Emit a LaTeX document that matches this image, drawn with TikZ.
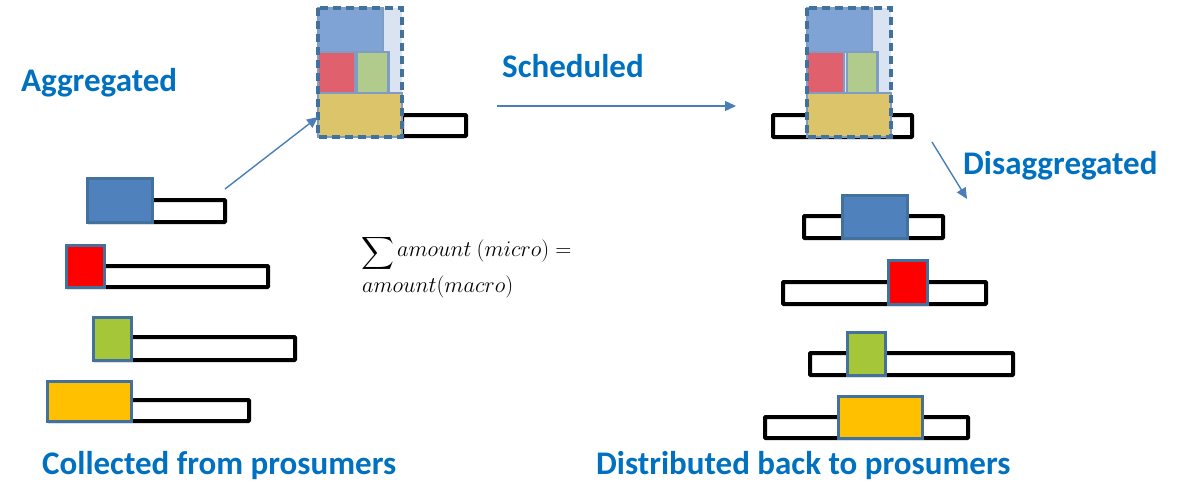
\documentclass[tikz,border=0pt]{standalone}
\usepackage{amsmath}
\usepackage{graphicx}
\usepackage{fontspec}
\setmainfont{Carlito}
\usetikzlibrary{arrows.meta}
\definecolor{lblue}{HTML}{0070C0}
\definecolor{arrowc}{HTML}{4A7EBB}
\definecolor{edgec}{HTML}{41719C}
\definecolor{softedge}{HTML}{7F9CC4}
\definecolor{cblue}{HTML}{4F81BD}
\definecolor{cred}{HTML}{FF0000}
\definecolor{cgreen}{HTML}{A6C63A}
\definecolor{cyellow}{HTML}{FFC000}
\definecolor{fblue}{HTML}{7EA3D4}
\definecolor{fred}{HTML}{E0606E}
\definecolor{fgreen}{HTML}{B0CB8C}
\definecolor{fyellow}{HTML}{DCC46A}
\definecolor{fspare}{HTML}{DAE3F2}
\newcommand\eqsize[1]{\scalebox{1.075}{\fontsize{20.74}{24}\selectfont #1}}
\tikzset{
  bar/.style={draw=black, line width=4pt, fill=white, rounded corners=0.8pt},
  block/.style={draw=edgec, line width=3pt},
  stackpart/.style={draw=softedge, line width=2pt},
  stackframe/.style={draw=edgec, line width=3.4pt, dash pattern=on 8pt off 5pt},
  title/.style={font=\fontsize{33}{36}\selectfont\bfseries, text=lblue, inner sep=0pt, anchor=base west},
  flow/.style={draw=arrowc, line width=1.4pt, -{Triangle[length=11pt,width=10pt]}},
  eqtext/.style={inner sep=0pt, anchor=base west},
}
\begin{document}
\begin{tikzpicture}[x=1pt, y=-1pt]
\useasboundingbox (0,0) rectangle (1179,483);

% ---- captions ----
\node[title] (tagg) at (21,91) {Aggregated};
\node[title] (tsch) at (502,77) {Scheduled};
\node[title] (tdis) at (963,174) {Disaggregated};
\node[title] (tcol) at (42,474) {Collected from prosumers};
\node[title] (tdist) at (596,474) {Distributed back to prosumers};

% ---- individual requests collected from prosumers ----
\draw[bar] (88,200) rectangle (225,222);
\draw[block, fill=cblue] (87,178) rectangle (152,222);
\draw[bar] (67,266) rectangle (268,287);
\draw[block, fill=cred] (66,245) rectangle (104,287);
\draw[bar] (94,337) rectangle (295,360);
\draw[block, fill=cgreen] (93,317) rectangle (131,360);
\draw[bar] (48,400) rectangle (249,421);
\draw[block, fill=cyellow] (47,381) rectangle (131,421);

% ---- aggregated block ----
\draw[bar] (402,115) rectangle (466,136);
\fill[fspare] (318,8) rectangle (402,93);
\draw[stackpart, fill=fblue] (318,8) rectangle (383,52);
\draw[stackpart] (318,52) rectangle (389,93);
\draw[stackpart, fill=fred] (318,52) rectangle (355,93);
\draw[stackpart, fill=fgreen] (357,52) rectangle (388,93);
\draw[stackpart, fill=fyellow] (318,93) rectangle (402,137);
\draw[stackframe] (318,8) rectangle (402,137);
\coordinate (aggin) at (318,117);

% ---- scheduled block ----
\draw[bar] (773,115) rectangle (912,137);
\fill[fspare] (807,8) rectangle (891,93);
\draw[stackpart, fill=fblue] (807,8) rectangle (872,52);
\draw[stackpart] (807,52) rectangle (878,93);
\draw[stackpart, fill=fred] (807,52) rectangle (844,93);
\draw[stackpart, fill=fgreen] (847,52) rectangle (877,93);
\draw[stackpart, fill=fyellow] (807,93) rectangle (891,137);
\draw[stackframe] (807,8) rectangle (891,137);

% ---- requests distributed back ----
\draw[bar] (804,216) rectangle (943,238);
\draw[block, fill=cblue] (842,195) rectangle (907,238);
\draw[bar] (783,282) rectangle (986,304);
\draw[block, fill=cred] (888,260) rectangle (927,304);
\draw[bar] (810,353) rectangle (1013,375);
\draw[block, fill=cgreen] (847,332) rectangle (885,375);
\draw[bar] (765,417) rectangle (968,438);
\draw[block, fill=cyellow] (838,396) rectangle (922,438);

% ---- flow arrows ----
\coordinate (aggout) at (225,189);
\coordinate (schout) at (497,106);
\coordinate (schin) at (736,106);
\coordinate (disout) at (932,142);
\coordinate (disin) at (967,199);
\draw[flow] (aggout) -- (aggin);
\draw[flow] (schout) -- (schin);
\draw[flow] (disout) -- (disin);

% ---- balance equation ----
\node[inner sep=0pt, anchor=north west] (sig) at (361,235) {\scalebox{1.1}{\fontsize{20.74}{24}\selectfont$\displaystyle\sum\nolimits$}};
\node[eqtext] (eq1) at (397,256) {\eqsize{$amount\ (micro) =$}};
\node[eqtext] (eq2) at (362,292) {\eqsize{$amount(macro)$}};
\end{tikzpicture}
\end{document}
